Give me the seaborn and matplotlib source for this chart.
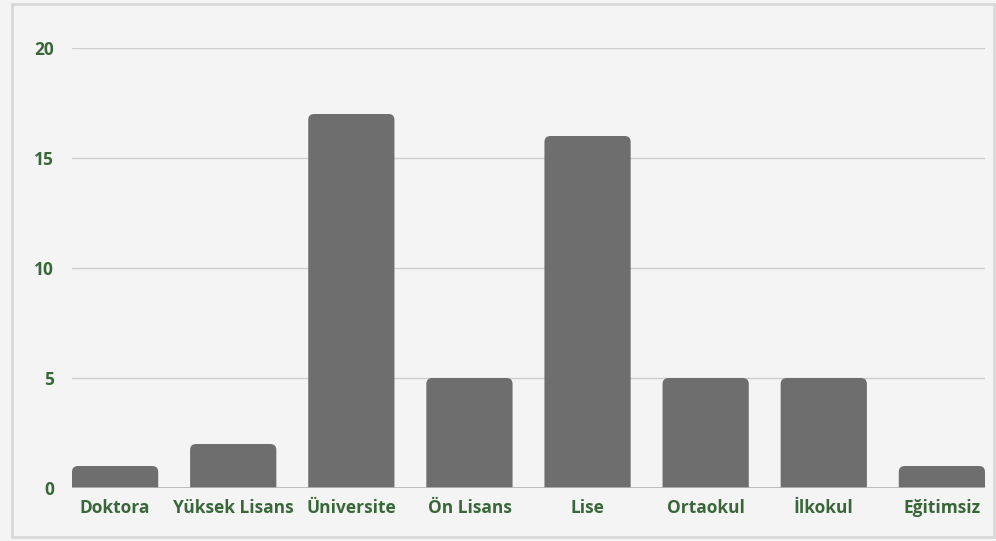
import numpy as np
import pandas as pd
import matplotlib.pyplot as plt
import seaborn as sns
from matplotlib.patches import FancyBboxPatch, Rectangle

# veriler
kategoriler = ['Doktora', 'Yüksek Lisans', 'Üniversite', 'Ön Lisans', 'Lise',
               'Ortaokul', 'İlkokul', 'Eğitimsiz']
sayilar = [1, 2, 17, 5, 16, 5, 5, 1]
y_ticks = [0, 5, 10, 15, 20]

df = pd.DataFrame({'egitim': kategoriler, 'sayi': sayilar})

sns.set_theme(style='white')
plt.rcParams['font.family'] = ['Open Sans', 'DejaVu Sans']

bg = '#f4f4f4'
yesil = '#3a673a'
bar_renk = '#6e6e6e'

fig = plt.figure(figsize=(9.96, 5.41), dpi=100, facecolor=bg)
ax = fig.add_axes([72 / 996, 53 / 541, 913 / 996, 440 / 541])
ax.set_facecolor(bg)

sns.barplot(data=df, x='egitim', y='sayi', color=bar_renk, width=0.73,
            saturation=1, ax=ax, zorder=3)

ax.set_xlim(-0.365, 7.365)
ax.set_ylim(0, 20)

# üst köşeleri yuvarlat; alt kısım eksenin altına taşıp kırpılıyor
px_x = (ax.get_xlim()[1] - ax.get_xlim()[0]) / 913
px_y = 20 / 440
r = 6 * px_x
aspect = px_y / px_x
for p in list(ax.patches):
    x0, w, h = p.get_x(), p.get_width(), p.get_height()
    p.remove()
    ax.add_patch(FancyBboxPatch((x0, -1), w, h + 1,
                                boxstyle=f'round,pad=0,rounding_size={r}',
                                mutation_aspect=aspect, fc=bar_renk,
                                ec='none', zorder=3))

ax.set_yticks(y_ticks)
ax.yaxis.grid(True, color='#cfcfcf', linewidth=1)
ax.set_axisbelow(True)
for s in ax.spines.values():
    s.set_visible(False)
ax.axhline(0, color='#b5b5b5', linewidth=1.2, zorder=4)

ax.tick_params(axis='both', length=0, labelsize=12.5, labelcolor=yesil)
ax.tick_params(axis='y', pad=13)
ax.tick_params(axis='x', pad=8)
for lbl in ax.get_xticklabels() + ax.get_yticklabels():
    lbl.set_fontweight('bold')
ax.set_xlabel('')
ax.set_ylabel('')

# çerçeve gölgesi
fig.patches.append(Rectangle((0.012, 0.008), 0.986, 0.985, transform=fig.transFigure,
                             fill=False, ec='#d8d8d8', lw=2, zorder=0))

fig.savefig('out.png', dpi=100, facecolor=bg)
